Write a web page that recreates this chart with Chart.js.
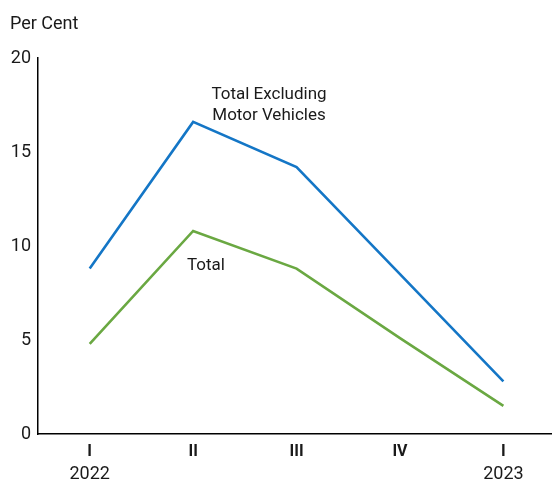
<!DOCTYPE html>
<html>
<head>
<meta charset="utf-8">
<script src="https://cdn.jsdelivr.net/npm/chart.js@4/dist/chart.umd.min.js"></script>
<style>
  html, body { margin: 0; padding: 0; background: #fff; }
  #wrap { width: 552px; height: 483px; position: relative; }
</style>
</head>
<body>
<div id="wrap"><canvas id="c" width="552" height="483"></canvas></div>
<script>
// Quarterly categories and the year shown beneath selected quarters
const quarters = ['I', 'II', 'III', 'IV', 'I'];
const years = ['2022', '', '', '', '2023'];

// Series values, per cent
const totalExclMotor = [8.8, 16.6, 14.2, 8.5, 2.8];
const total = [4.8, 10.8, 8.8, 5.1, 1.5];

// Y-axis tick values
const yTicks = [0, 5, 10, 15, 20];

const FONT = 'Roboto, "Liberation Sans", sans-serif';
const BLUE = '#1476c6';
const GREEN = '#6aa842';

// Quarters are placed on a numeric axis by their index
const toPoints = vals => vals.map((v, i) => ({ x: i, y: v }));

// Draws the unit title, the year row beneath the quarters and the series labels
const annotations = {
  id: 'annotations',
  afterDraw(chart) {
    const { ctx, scales: { x } } = chart;
    ctx.save();
    ctx.fillStyle = '#1a1a1a';
    ctx.font = '18px ' + FONT;
    ctx.textBaseline = 'middle';
    ctx.textAlign = 'left';
    ctx.fillText('Per Cent', 10, 24);

    ctx.textAlign = 'center';
    years.forEach((yr, i) => {
      if (yr) ctx.fillText(yr, x.getPixelForValue(i), 474);
    });

    ctx.font = '17px ' + FONT;
    ctx.fillText('Total Excluding', 269, 95);
    ctx.fillText('Motor Vehicles', 269, 116);
    ctx.fillText('Total', 206, 266);
    ctx.restore();
  }
};

new Chart(document.getElementById('c'), {
  type: 'line',
  data: {
    datasets: [
      {
        label: 'Total Excluding Motor Vehicles',
        data: toPoints(totalExclMotor),
        borderColor: BLUE,
        borderWidth: 2.6,
        pointRadius: 0,
        tension: 0,
        borderCapStyle: 'butt',
        borderJoinStyle: 'miter'
      },
      {
        label: 'Total',
        data: toPoints(total),
        borderColor: GREEN,
        borderWidth: 2.6,
        pointRadius: 0,
        tension: 0,
        borderCapStyle: 'butt',
        borderJoinStyle: 'miter'
      }
    ]
  },
  options: {
    responsive: false,
    animation: false,
    layout: { padding: { top: 58, right: 0, bottom: 0, left: 0 } },
    plugins: {
      legend: { display: false },
      tooltip: { enabled: false }
    },
    scales: {
      x: {
        type: 'linear',
        min: -0.5,
        max: 4.47,
        afterBuildTicks(scale) { scale.ticks = quarters.map((q, i) => ({ value: i })); },
        grid: { display: false, drawTicks: false },
        border: { display: true, color: '#000', width: 1.5 },
        ticks: {
          color: '#1a1a1a',
          font: { family: FONT, size: 16, weight: 'bold' },
          padding: 8,
          maxRotation: 0,
          autoSkip: false,
          callback: v => quarters[v]
        },
        afterFit(scale) { scale.height = 49; }
      },
      y: {
        min: 0,
        max: 20,
        afterBuildTicks(scale) { scale.ticks = yTicks.map(v => ({ value: v })); },
        grid: { display: false, drawTicks: false },
        border: { display: true, color: '#000', width: 1.5 },
        ticks: {
          color: '#1a1a1a',
          font: { family: FONT, size: 18 },
          padding: 7
        },
        afterFit(scale) { scale.width = 38; }
      }
    }
  },
  plugins: [annotations]
});
</script>
</body>
</html>
